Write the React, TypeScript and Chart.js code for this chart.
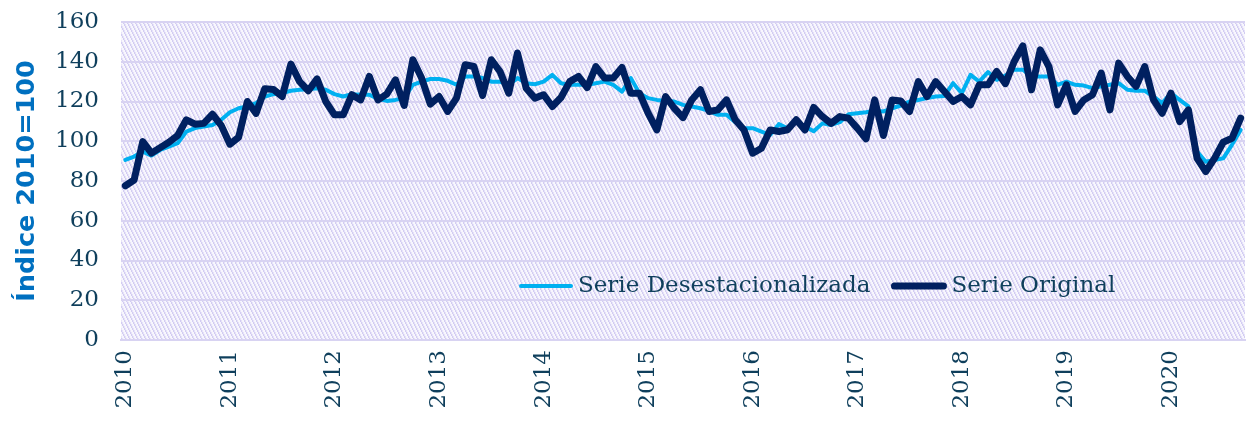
import React, { useEffect, useRef } from "react";
import { Chart, registerables } from "chart.js";

Chart.register(...registerables);

const years = ["2010", "2011", "2012", "2013", "2014", "2015", "2016", "2017", "2018", "2019", "2020"];
const months = ["01", "02", "03", "04", "05", "06", "07", "08", "09", "10", "11", "12"];

const serieOriginal = [
  77.6, 80.5, 99.8, 94, 96.8, 99.5, 102.9, 110.8, 108.6, 109, 113.6, 108,
  98.5, 102, 120, 114, 126.4, 126, 122.5, 138.8, 130, 125.4, 131.4, 120,
  113.3, 113.3, 123.4, 120.8, 132.6, 120.8, 123.7, 130.9, 118, 141, 131.8, 118.7,
  122.5, 115, 121.7, 138.5, 137.6, 123, 141, 135.1, 124.2, 144.4, 126.7, 121.7,
  123.4, 117.5, 122, 130, 132.6, 127, 137.6, 131.8, 131.8, 137.1, 124.2, 124.2,
  114.1, 105.7, 122.5, 116.6, 111.9, 120.8, 125.9, 115, 115.8, 120.8, 110.8, 105.7,
  94, 96.5, 105.7, 104.9, 105.8, 110.8, 105.7, 117, 112.4, 109, 112.4, 111.6,
  106.6, 101.2, 120.8, 102.9, 120.8, 120.3, 115, 130, 122.5, 130, 125, 120,
  122.5, 118.3, 128.4, 128.4, 135.1, 129, 140, 148, 125.9, 146, 137.6, 118.3,
  128.4, 115, 120.8, 123.4, 134.3, 115.8, 139.3, 132.6, 127.6, 137.6, 120.8, 114.1,
  124.2, 109.9, 115.8, 91.4, 84.7, 91.4, 99.5, 101.5, 111.6,
];

const serieDesestacionalizada = [
  90.6, 92.3, 94.8, 92.8, 95.6, 97.3, 99, 104.9, 106.6, 107.4, 108.2, 110.8,
  114.6, 116.6, 117.5, 119.2, 122.5, 123.7, 124.2, 125.4, 125.9, 126.2, 126.7, 125.9,
  123.7, 122.5, 123.7, 123.4, 123.4, 121.3, 120.3, 120.8, 121.7, 128.4, 130, 131.3,
  131.3, 130.4, 128.4, 132.6, 132.6, 131.8, 130, 130, 128.4, 131.8, 129.2, 128.7,
  130, 133.4, 129.2, 128.4, 128.4, 128.4, 129.2, 130, 128.4, 125, 131.8, 124.2,
  121.7, 120.8, 120.3, 120, 118.3, 117.5, 116.6, 115.3, 113.3, 113.3, 109.6, 106.6,
  106.6, 104.9, 103.2, 108.6, 106.5, 110, 107.4, 105, 109, 108.2, 109.6, 113.6,
  114.1, 114.6, 115.3, 115, 116.6, 118, 120, 120.8, 121.7, 122.5, 122.8, 129.2,
  124.2, 133.4, 130, 134.8, 130.9, 133, 136, 136, 132.6, 132.6, 132.6, 128.4,
  130, 128.4, 128, 126.7, 127.6, 128.4, 129.2, 125.9, 125.4, 125.4, 122.5, 119.2,
  124.2, 120.8, 117.5, 94.8, 89.7, 90.6, 91.4, 98.2, 105.7,
];

const yTicks = [0, 20, 40, 60, 80, 100, 120, 140, 160];

const TEXT = "#0f3f5c";
const TITLE_COLOR = "#0070c0";
const LIGHT = "#00b0f0";
const DARK = "#002060";
const GRID = "#d8d3f2";
const SERIF = '"DejaVu Serif", serif';

function zeroPad(s: any) {
  s.paddingTop = 0;
  s.paddingBottom = 0;
  s.paddingLeft = 0;
  s.paddingRight = 0;
}

export default function App() {
  const ref = useRef<HTMLCanvasElement | null>(null);

  useEffect(() => {
    document.body.style.margin = "0";
    const canvas = ref.current;
    if (!canvas) return;

    const labels: string[] = [];
    for (const y of years) for (const m of months) labels.push(`${y}-${m}`);
    const categories = labels.slice(0, serieOriginal.length);

    // hatch pattern for plot area
    const tile = document.createElement("canvas");
    tile.width = 4;
    tile.height = 8;
    const tctx = tile.getContext("2d")!;
    tctx.fillStyle = "#f7f6fd";
    tctx.fillRect(0, 0, 4, 8);
    tctx.fillStyle = "#d2ccf2";
    for (let r = 0; r < 8; r++) tctx.fillRect(Math.floor(r / 2) % 4, r, 1, 1);
    tctx.fillStyle = "#e6e2f8";
    for (let r = 0; r < 8; r++) tctx.fillRect((Math.floor(r / 2) + 1) % 4, r, 1, 1);

    const bgPlugin = {
      id: "hatchBg",
      beforeDraw(chart: any) {
        const { ctx, chartArea } = chart;
        const pat = ctx.createPattern(tile, "repeat");
        ctx.save();
        ctx.fillStyle = pat;
        ctx.fillRect(chartArea.left, chartArea.top, chartArea.right - chartArea.left, chartArea.bottom - chartArea.top);
        ctx.restore();
      },
    };

    const legendPlugin = {
      id: "innerLegend",
      afterDatasetsDraw(chart: any) {
        const { ctx, chartArea } = chart;
        const items = [
          { label: chart.data.datasets[0].label, color: LIGHT, width: 4, len: 50, gap: 7 },
          { label: chart.data.datasets[1].label, color: DARK, width: 7, len: 49, gap: 8 },
        ];
        ctx.save();
        ctx.font = `23px ${SERIF}`;
        ctx.textBaseline = "middle";
        ctx.textAlign = "left";
        let x = chartArea.left + 400;
        const y = chartArea.top + 264;
        for (const it of items) {
          ctx.strokeStyle = it.color;
          ctx.lineWidth = it.width;
          ctx.lineCap = "round";
          ctx.beginPath();
          ctx.moveTo(x, y);
          ctx.lineTo(x + it.len, y);
          ctx.stroke();
          x += it.len + it.gap;
          ctx.fillStyle = TEXT;
          ctx.fillText(it.label, x, y);
          x += ctx.measureText(it.label).width + 24;
        }
        ctx.restore();
      },
    };

    const chart = new Chart(canvas, {
      type: "line",
      data: {
        labels: categories,
        datasets: [
          {
            label: "Serie Desestacionalizada",
            data: serieDesestacionalizada,
            borderColor: LIGHT,
            backgroundColor: LIGHT,
            borderWidth: 4,
            pointRadius: 0,
            tension: 0,
            borderJoinStyle: "round",
            borderCapStyle: "round",
            order: 2,
          },
          {
            label: "Serie Original",
            data: serieOriginal,
            borderColor: DARK,
            backgroundColor: DARK,
            borderWidth: 7,
            pointRadius: 0,
            tension: 0,
            borderJoinStyle: "round",
            borderCapStyle: "round",
            order: 1,
          },
        ],
      },
      options: {
        responsive: false,
        animation: false,
        layout: { padding: { top: 22, right: 2, left: 0, bottom: 0 } },
        plugins: { legend: { display: false }, tooltip: { enabled: false } },
        scales: {
          x: {
            type: "category",
            offset: true,
            grid: { display: false, drawTicks: false },
            border: { display: true, color: GRID, width: 2 },
            ticks: {
              autoSkip: false,
              minRotation: 90,
              maxRotation: 90,
              padding: 10,
              color: TEXT,
              font: { family: SERIF, size: 23 },
              callback: (_v: any, i: number) => (i % 12 === 0 ? years[i / 12] : ""),
            },
            afterFit: (s: any) => {
              s.height = 83;
              zeroPad(s);
            },
          },
          y: {
            min: 0,
            max: 160,
            afterBuildTicks: (s: any) => {
              s.ticks = yTicks.map((v) => ({ value: v }));
            },
            grid: { color: GRID, lineWidth: 2, drawTicks: false },
            border: { display: false },
            ticks: {
              padding: 22,
              color: TEXT,
              font: { family: SERIF, size: 23 },
            },
            title: {
              display: true,
              text: "Índice 2010=100",
              color: TITLE_COLOR,
              font: { family: '"DejaVu Sans", sans-serif', size: 25.5, weight: "bold" },
              padding: { top: 12, bottom: 0 },
            },
            afterFit: (s: any) => {
              s.width = 121;
              zeroPad(s);
            },
          },
        },
      },
      plugins: [bgPlugin, legendPlugin],
    });

    return () => chart.destroy();
  }, []);

  return (
    <div style={{ width: 1247, height: 423 }}>
      <canvas ref={ref} width={1247} height={423} style={{ display: "block" }} />
    </div>
  );
}
